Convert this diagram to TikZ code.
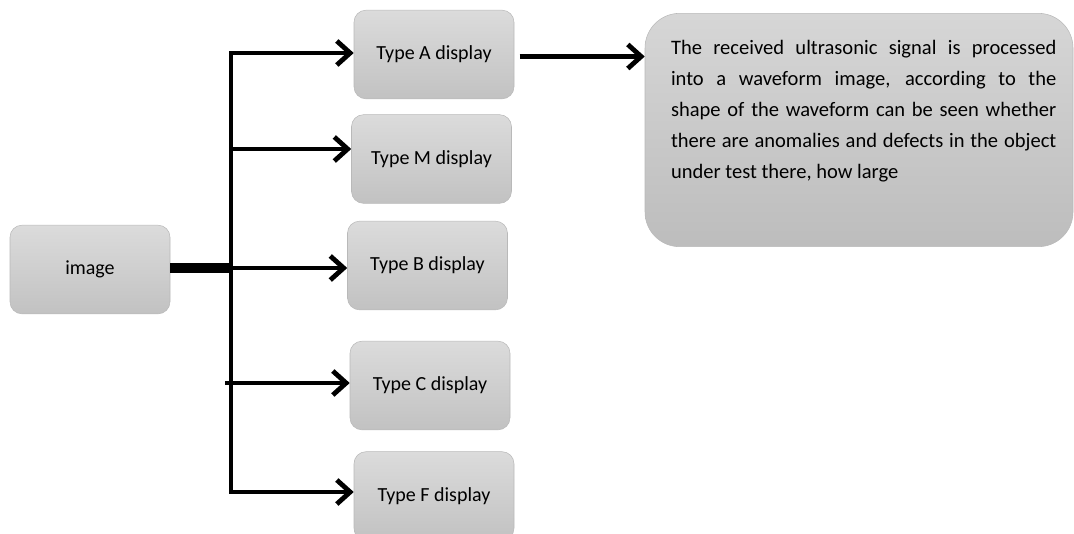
\documentclass[tikz,border=0pt]{standalone}
\usepackage{fontspec}
\setmainfont{Carlito}
\usetikzlibrary{
    arrows.meta,
    positioning
}

\begin{document}
\begin{tikzpicture}[x=0.75pt, y=-0.75pt,
            display_block/.style={rectangle, draw=gray!55, top color=gray!28, bottom color=gray!48, rounded corners=9pt, minimum width=120pt, minimum height=66.5pt, font=\fontsize{15}{18}\selectfont},
            info_block/.style={rectangle, draw=gray!55, top color=gray!32, bottom color=gray!52, rounded corners=26pt, minimum width=321pt, minimum height=175pt, text width=296pt, align=justify, font=\fontsize{15.4}{23.3}\selectfont},
            branch_arrow/.style={-{Straight Barb[length=10pt, width=18pt]}, line width=3.6pt, black},
            trunk_line/.style={line width=3.6pt, black}
        ]
        \useasboundingbox (0,0) rectangle (1074,533);

        \node[display_block] (image) at (90,269.5) {image};
        \node[display_block] (type_a) at (434,54.5) {Type A display};
        \node[display_block] (type_m) at (431.5,159) {Type M display};
        \node[display_block] (type_b) at (427.5,265.5) {Type B display};
        \node[display_block] (type_c) at (430,385.5) {Type C display};
        \node[display_block] (type_f) at (434,496) {Type F display};
        \node[info_block] (info) at (859,130) {\leftskip=7pt The received ultrasonic signal is processed\linebreak into a waveform image, according to the\linebreak shape of the waveform can be seen whether\linebreak there are anomalies and defects in the object\linebreak under test there, how large\par\vspace{8pt}\mbox{}};

        % trunk and branch points
        \coordinate (trunk_top) at (231,51);
        \coordinate (trunk_bottom) at (231,494);
        \coordinate (split) at (231,268);
        \coordinate (branch_a) at (231,53);
        \coordinate (branch_m) at (233,149);
        \coordinate (branch_b) at (231,268);
        \coordinate (branch_c) at (225,383);
        \coordinate (branch_f) at (229,492);

        \draw[trunk_line] (trunk_top) -- (trunk_bottom);
        \draw[line width=8pt] (image.east |- split) -- (split);

        \draw[branch_arrow] (branch_a) -- (branch_a -| type_a.west);
        \draw[branch_arrow] (branch_m) -- (branch_m -| type_m.west);
        \draw[branch_arrow] (branch_b) -- (branch_b -| type_b.west);
        \draw[branch_arrow] (branch_c) -- (branch_c -| type_c.west);
        \draw[branch_arrow] (branch_f) -- (branch_f -| type_f.west);

        \draw[branch_arrow] ([xshift=4pt,yshift=-1.5pt]type_a.east) -- ([yshift=-1.5pt]type_a.east -| info.west);

        \end{tikzpicture}
\end{document}
